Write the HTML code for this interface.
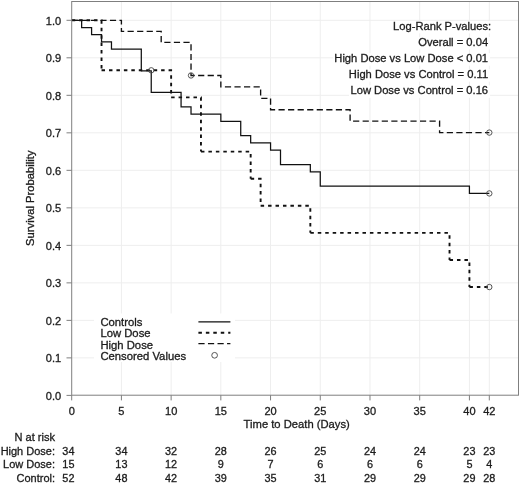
<!DOCTYPE html>
<html><head><meta charset="utf-8"><title>Survival</title>
<style>
html,body{margin:0;padding:0;background:#fff;}
body{width:520px;height:483px;overflow:hidden;}
svg{display:block;will-change:transform;}
text{font-family:"Liberation Sans",sans-serif;font-size:11.7px;fill:#1c1c1c;stroke:#1c1c1c;stroke-width:0.32px;}
</style></head><body>
<svg width="520" height="483" viewBox="0 0 520 483">
<rect x="0" y="0" width="520" height="483" fill="#fff"/>
<g stroke="#eeeeee" stroke-width="1" fill="none"><line x1="121.41" y1="1.50" x2="121.41" y2="395.20"/><line x1="171.13" y1="1.50" x2="171.13" y2="395.20"/><line x1="220.84" y1="1.50" x2="220.84" y2="395.20"/><line x1="270.56" y1="1.50" x2="270.56" y2="395.20"/><line x1="320.27" y1="1.50" x2="320.27" y2="395.20"/><line x1="369.99" y1="1.50" x2="369.99" y2="395.20"/><line x1="419.70" y1="1.50" x2="419.70" y2="395.20"/><line x1="469.42" y1="1.50" x2="469.42" y2="395.20"/><line x1="489.31" y1="1.50" x2="489.31" y2="395.20"/><line x1="71.70" y1="357.89" x2="518.50" y2="357.89"/><line x1="71.70" y1="320.38" x2="518.50" y2="320.38"/><line x1="71.70" y1="282.87" x2="518.50" y2="282.87"/><line x1="71.70" y1="245.36" x2="518.50" y2="245.36"/><line x1="71.70" y1="207.85" x2="518.50" y2="207.85"/><line x1="71.70" y1="170.34" x2="518.50" y2="170.34"/><line x1="71.70" y1="132.83" x2="518.50" y2="132.83"/><line x1="71.70" y1="95.32" x2="518.50" y2="95.32"/><line x1="71.70" y1="57.81" x2="518.50" y2="57.81"/><line x1="71.70" y1="20.30" x2="518.50" y2="20.30"/></g>
<rect x="392.0" y="21.0" width="101.2" height="12.4" fill="#fff"/><rect x="418.0" y="37.1" width="72.1" height="12.4" fill="#fff"/><rect x="333.0" y="53.2" width="157.1" height="12.4" fill="#fff"/><rect x="347.5" y="69.3" width="142.6" height="12.4" fill="#fff"/><rect x="349.0" y="85.4" width="141.1" height="12.4" fill="#fff"/>
<rect x="94" y="313.5" width="141" height="48.5" fill="#fff"/>
<g fill="none" stroke="#111" stroke-linejoin="miter">
<path d="M71.70 20.30 L121.41 20.30 L121.41 31.33 L161.19 31.33 L161.19 42.36 L191.02 42.36 L191.02 75.46 L220.84 75.46 L220.84 86.89 L260.62 86.89 L260.62 98.31 L270.56 98.31 L270.56 109.74 L350.10 109.74 L350.10 121.17 L439.59 121.17 L439.59 132.59 L489.31 132.59" stroke-width="1.35" stroke-dasharray="6.2 3.356"/>
<path d="M71.70 20.30 L101.53 20.30 L101.53 70.31 M101.53 70.31 L171.13 70.31 L171.13 97.40 M171.13 97.40 L200.96 97.40 L200.96 151.59 M200.96 151.59 L250.67 151.59 L250.67 178.68 M250.67 178.68 L260.62 178.68 L260.62 205.77 M260.62 205.77 L310.33 205.77 L310.33 232.86 M310.33 232.86 L449.53 232.86 L449.53 259.95 M449.53 259.95 L469.42 259.95 L469.42 287.04 M469.42 287.04 L489.31 287.04" stroke-width="1.9" stroke-dasharray="3.5 3.95"/>
<path d="M71.70 20.30 L81.64 20.30 L81.64 27.51 L91.59 27.51 L91.59 34.73 L101.53 34.73 L101.53 41.94 L111.47 41.94 L111.47 49.15 L141.30 49.15 L141.30 70.79 L151.24 70.79 L151.24 92.43 L181.07 92.43 L181.07 106.86 L191.02 106.86 L191.02 114.07 L220.84 114.07 L220.84 121.29 L240.73 121.29 L240.73 135.72 L250.67 135.72 L250.67 142.93 L270.56 142.93 L270.56 150.14 L280.50 150.14 L280.50 164.57 L310.33 164.57 L310.33 171.78 L320.27 171.78 L320.27 186.21 L469.42 186.21 L469.42 193.42 L489.31 193.42" stroke-width="1.25"/>
</g>
<g fill="none" stroke="#444" stroke-width="0.9"><circle cx="151.24" cy="70.31" r="2.7"/><circle cx="191.02" cy="75.46" r="2.7"/><circle cx="489.31" cy="132.59" r="2.7"/><circle cx="489.31" cy="193.42" r="2.7"/><circle cx="489.31" cy="287.04" r="2.7"/></g>
<rect x="71.70" y="1.50" width="446.80" height="393.70" fill="none" stroke="#7f7f7f" stroke-width="1"/>
<g stroke="#7f7f7f" stroke-width="1"><line x1="71.70" y1="395.20" x2="71.70" y2="400.40"/><line x1="121.41" y1="395.20" x2="121.41" y2="400.40"/><line x1="171.13" y1="395.20" x2="171.13" y2="400.40"/><line x1="220.84" y1="395.20" x2="220.84" y2="400.40"/><line x1="270.56" y1="395.20" x2="270.56" y2="400.40"/><line x1="320.27" y1="395.20" x2="320.27" y2="400.40"/><line x1="369.99" y1="395.20" x2="369.99" y2="400.40"/><line x1="419.70" y1="395.20" x2="419.70" y2="400.40"/><line x1="469.42" y1="395.20" x2="469.42" y2="400.40"/><line x1="489.31" y1="395.20" x2="489.31" y2="400.40"/><line x1="66.50" y1="395.40" x2="71.70" y2="395.40"/><line x1="66.50" y1="357.89" x2="71.70" y2="357.89"/><line x1="66.50" y1="320.38" x2="71.70" y2="320.38"/><line x1="66.50" y1="282.87" x2="71.70" y2="282.87"/><line x1="66.50" y1="245.36" x2="71.70" y2="245.36"/><line x1="66.50" y1="207.85" x2="71.70" y2="207.85"/><line x1="66.50" y1="170.34" x2="71.70" y2="170.34"/><line x1="66.50" y1="132.83" x2="71.70" y2="132.83"/><line x1="66.50" y1="95.32" x2="71.70" y2="95.32"/><line x1="66.50" y1="57.81" x2="71.70" y2="57.81"/><line x1="66.50" y1="20.30" x2="71.70" y2="20.30"/></g>
<text transform="translate(71.70 414.90) scale(0.945 1)" text-anchor="middle">0</text><text transform="translate(121.41 414.90) scale(0.945 1)" text-anchor="middle">5</text><text transform="translate(171.13 414.90) scale(0.945 1)" text-anchor="middle">10</text><text transform="translate(220.84 414.90) scale(0.945 1)" text-anchor="middle">15</text><text transform="translate(270.56 414.90) scale(0.945 1)" text-anchor="middle">20</text><text transform="translate(320.27 414.90) scale(0.945 1)" text-anchor="middle">25</text><text transform="translate(369.99 414.90) scale(0.945 1)" text-anchor="middle">30</text><text transform="translate(419.70 414.90) scale(0.945 1)" text-anchor="middle">35</text><text transform="translate(469.42 414.90) scale(0.945 1)" text-anchor="middle">40</text><text transform="translate(489.31 414.90) scale(0.945 1)" text-anchor="middle">42</text>
<text transform="translate(61.20 399.80) scale(0.945 1)" text-anchor="end">0.0</text><text transform="translate(61.20 362.29) scale(0.945 1)" text-anchor="end">0.1</text><text transform="translate(61.20 324.78) scale(0.945 1)" text-anchor="end">0.2</text><text transform="translate(61.20 287.27) scale(0.945 1)" text-anchor="end">0.3</text><text transform="translate(61.20 249.76) scale(0.945 1)" text-anchor="end">0.4</text><text transform="translate(61.20 212.25) scale(0.945 1)" text-anchor="end">0.5</text><text transform="translate(61.20 174.74) scale(0.945 1)" text-anchor="end">0.6</text><text transform="translate(61.20 137.23) scale(0.945 1)" text-anchor="end">0.7</text><text transform="translate(61.20 99.72) scale(0.945 1)" text-anchor="end">0.8</text><text transform="translate(61.20 62.21) scale(0.945 1)" text-anchor="end">0.9</text><text transform="translate(61.20 24.70) scale(0.945 1)" text-anchor="end">1.0</text>
<text transform="translate(296.70 427.60) scale(0.960 1)" text-anchor="middle">Time to Death (Days)</text>
<text transform="translate(34.40 198.20) rotate(-90) scale(0.960 1)" text-anchor="middle">Survival Probability</text>
<text transform="translate(491.20 29.80) scale(0.956 1)" text-anchor="end">Log-Rank P-values:</text>
<text transform="translate(488.10 45.90) scale(0.956 1)" text-anchor="end">Overall = 0.04</text>
<text transform="translate(488.10 62.00) scale(0.956 1)" text-anchor="end">High Dose vs Low Dose &lt; 0.01</text>
<text transform="translate(488.10 78.10) scale(0.956 1)" text-anchor="end">High Dose vs Control = 0.11</text>
<text transform="translate(488.10 94.20) scale(0.956 1)" text-anchor="end">Low Dose vs Control = 0.16</text>
<text transform="translate(100.40 326.40) scale(0.965 1)">Controls</text>
<text transform="translate(100.40 337.45) scale(0.965 1)">Low Dose</text>
<text transform="translate(100.40 348.50) scale(0.965 1)">High Dose</text>
<text transform="translate(100.40 359.55) scale(0.965 1)">Censored Values</text>
<g fill="none" stroke="#111"><line x1="198.4" y1="321.9" x2="230.4" y2="321.9" stroke-width="1.25"/><line x1="198.4" y1="332.8" x2="230.4" y2="332.8" stroke-width="1.9" stroke-dasharray="3.5 3.95"/><line x1="198.4" y1="343.6" x2="230.4" y2="343.6" stroke-width="1.35" stroke-dasharray="6.2 3.356"/></g>
<circle cx="214.6" cy="355.3" r="2.85" fill="none" stroke="#444" stroke-width="0.9"/>
<text transform="translate(55.00 441.20) scale(0.945 1)" text-anchor="end">N at risk</text>
<text transform="translate(55.00 454.60) scale(0.940 1)" text-anchor="end">High Dose:</text><text transform="translate(68.40 454.60) scale(0.930 1)" text-anchor="middle">34</text><text transform="translate(121.41 454.60) scale(0.930 1)" text-anchor="middle">34</text><text transform="translate(171.13 454.60) scale(0.930 1)" text-anchor="middle">32</text><text transform="translate(220.84 454.60) scale(0.930 1)" text-anchor="middle">28</text><text transform="translate(270.56 454.60) scale(0.930 1)" text-anchor="middle">26</text><text transform="translate(320.27 454.60) scale(0.930 1)" text-anchor="middle">25</text><text transform="translate(369.99 454.60) scale(0.930 1)" text-anchor="middle">24</text><text transform="translate(419.70 454.60) scale(0.930 1)" text-anchor="middle">24</text><text transform="translate(469.42 454.60) scale(0.930 1)" text-anchor="middle">23</text><text transform="translate(489.31 454.60) scale(0.930 1)" text-anchor="middle">23</text>
<text transform="translate(55.00 468.10) scale(0.940 1)" text-anchor="end">Low Dose:</text><text transform="translate(68.40 468.10) scale(0.930 1)" text-anchor="middle">15</text><text transform="translate(121.41 468.10) scale(0.930 1)" text-anchor="middle">13</text><text transform="translate(171.13 468.10) scale(0.930 1)" text-anchor="middle">12</text><text transform="translate(220.84 468.10) scale(0.930 1)" text-anchor="middle">9</text><text transform="translate(270.56 468.10) scale(0.930 1)" text-anchor="middle">7</text><text transform="translate(320.27 468.10) scale(0.930 1)" text-anchor="middle">6</text><text transform="translate(369.99 468.10) scale(0.930 1)" text-anchor="middle">6</text><text transform="translate(419.70 468.10) scale(0.930 1)" text-anchor="middle">6</text><text transform="translate(469.42 468.10) scale(0.930 1)" text-anchor="middle">5</text><text transform="translate(489.31 468.10) scale(0.930 1)" text-anchor="middle">4</text>
<text transform="translate(55.00 481.50) scale(0.940 1)" text-anchor="end">Control:</text><text transform="translate(68.40 481.50) scale(0.930 1)" text-anchor="middle">52</text><text transform="translate(121.41 481.50) scale(0.930 1)" text-anchor="middle">48</text><text transform="translate(171.13 481.50) scale(0.930 1)" text-anchor="middle">42</text><text transform="translate(220.84 481.50) scale(0.930 1)" text-anchor="middle">39</text><text transform="translate(270.56 481.50) scale(0.930 1)" text-anchor="middle">35</text><text transform="translate(320.27 481.50) scale(0.930 1)" text-anchor="middle">31</text><text transform="translate(369.99 481.50) scale(0.930 1)" text-anchor="middle">29</text><text transform="translate(419.70 481.50) scale(0.930 1)" text-anchor="middle">29</text><text transform="translate(469.42 481.50) scale(0.930 1)" text-anchor="middle">29</text><text transform="translate(489.31 481.50) scale(0.930 1)" text-anchor="middle">28</text>
</svg>
</body></html>
